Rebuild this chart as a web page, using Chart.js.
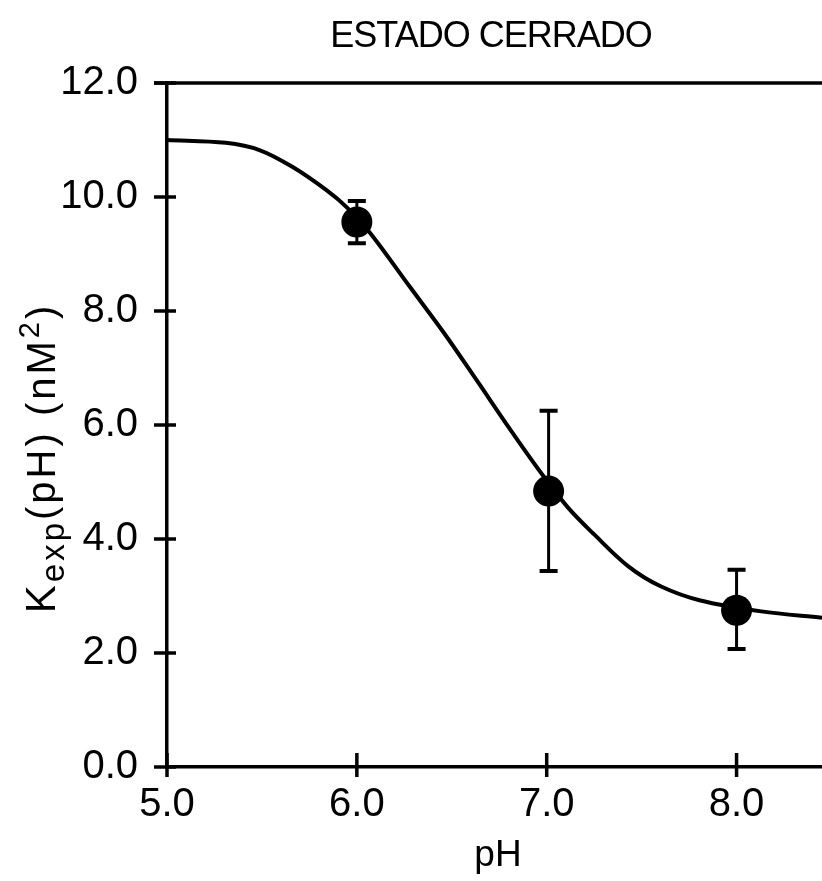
<!DOCTYPE html>
<html>
<head>
<meta charset="utf-8">
<script src="https://cdn.jsdelivr.net/npm/chart.js@4.4.1/dist/chart.umd.min.js"></script>
<style>
  html, body { margin: 0; padding: 0; background: #fff; }
  #wrap { width: 822px; height: 881px; }
</style>
</head>
<body>
<div id="wrap"><canvas id="myChart" width="822" height="881"></canvas></div>
<script>
// fitted curve
const curvePH = [5.0, 5.31, 5.49, 5.66, 5.84, 5.95, 6.07, 6.28, 6.46, 6.63, 6.81, 6.97, 7.11, 7.25, 7.43, 7.60, 7.81, 8.13, 8.45];
const curveK  = [11.0, 10.95, 10.82, 10.53, 10.12, 9.81, 9.37, 8.42, 7.61, 6.79, 5.91, 5.16, 4.56, 4.08, 3.52, 3.17, 2.92, 2.73, 2.62];

// measured points with error bars
const measPH  = [6.0, 7.01, 8.0];
const measK   = [9.56, 4.84, 2.75];
const errLow  = [9.19, 3.44, 2.07];
const errHigh = [9.93, 6.25, 3.46];

const xTicks = [5, 6, 7, 8];
const yTicks = [0, 2, 4, 6, 8, 10, 12];

const titleText = 'ESTADO CERRADO';
const xTitle = 'pH';

const FONT = '"Liberation Sans", Arial, sans-serif';
const ctx = document.getElementById('myChart').getContext('2d');

// error bars, cross ticks, frame top, titles
const decorations = {
    id: 'decorations',
    afterDatasetsDraw(chart) {
        const c = chart.ctx;
        const xs = chart.scales.x;
        const ys = chart.scales.y;
        const area = chart.chartArea;
        c.save();
        c.strokeStyle = '#000';
        c.fillStyle = '#000';
        c.lineCap = 'butt';

        // error bars
        measPH.forEach((ph, i) => {
            const px = xs.getPixelForValue(ph);
            const top = ys.getPixelForValue(errHigh[i]);
            const bot = ys.getPixelForValue(errLow[i]);
            c.lineWidth = 3;
            c.beginPath();
            c.moveTo(px, top);
            c.lineTo(px, bot);
            c.stroke();
            c.lineWidth = 4;
            c.beginPath();
            c.moveTo(px - 9, top);
            c.lineTo(px + 9, top);
            c.moveTo(px - 9, bot);
            c.lineTo(px + 9, bot);
            c.stroke();
        });

        // tick marks crossing the axes
        c.lineWidth = 3.5;
        yTicks.forEach(v => {
            const py = ys.getPixelForValue(v);
            c.beginPath();
            c.moveTo(area.left - 13, py);
            c.lineTo(area.left + 9, py);
            c.stroke();
        });
        xTicks.forEach(v => {
            const px = xs.getPixelForValue(v);
            c.beginPath();
            c.moveTo(px, area.bottom - 14);
            c.lineTo(px, area.bottom + 10);
            c.stroke();
        });

        // top frame line
        c.beginPath();
        c.moveTo(area.left - 13, area.top);
        c.lineTo(chart.width, area.top);
        c.stroke();

        // chart title
        c.textAlign = 'center';
        c.textBaseline = 'alphabetic';
        c.font = '36px ' + FONT;
        c.letterSpacing = '-1px';
        c.fillText(titleText, 491, 47);
        c.letterSpacing = '0px';

        // x title
        c.font = '37px ' + FONT;
        c.fillText(xTitle, 498, 866);

        // y title with subscript and superscript
        const parts = [
            { t: 'K', size: 42, shift: 0 },
            { t: 'exp', size: 33, shift: 9 },
            { t: '(pH) (nM', size: 40, shift: 0 },
            { t: '2', size: 29, shift: -16 },
            { t: ')', size: 40, shift: 0 }
        ];
        c.letterSpacing = '3px';
        let total = 0;
        parts.forEach(p => {
            c.font = p.size + 'px ' + FONT;
            p.w = c.measureText(p.t).width;
            total += p.w;
        });
        c.translate(55, 458);
        c.rotate(-Math.PI / 2);
        c.textAlign = 'left';
        let pos = -total / 2;
        parts.forEach(p => {
            c.font = p.size + 'px ' + FONT;
            c.fillText(p.t, pos, p.shift);
            pos += p.w;
        });
        c.restore();
    }
};

const myChart = new Chart(ctx, {
    type: 'line',
    data: {
        datasets: [
            {
                data: measPH.map((x, i) => ({ x: x, y: measK[i] })),
                showLine: false,
                pointRadius: 15.5,
                pointBackgroundColor: '#000',
                pointBorderColor: '#000',
                pointBorderWidth: 0,
                order: 0
            },
            {
                data: curvePH.map((x, i) => ({ x: x, y: curveK[i] })),
                borderColor: '#000',
                borderWidth: 4,
                pointRadius: 0,
                tension: 0.35,
                fill: false,
                order: 1
            }
        ]
    },
    options: {
        responsive: false,
        animation: false,
        clip: false,
        layout: {
            autoPadding: false,
            padding: { top: 83, left: 0, right: 0, bottom: 0 }
        },
        plugins: {
            legend: { display: false },
            title: { display: false },
            tooltip: { enabled: false }
        },
        scales: {
            x: {
                type: 'linear',
                min: 5,
                max: 8.45,
                grid: { display: false },
                border: { display: true, color: '#000', width: 3.5 },
                afterBuildTicks: scale => {
                    scale.ticks = xTicks.map(v => ({ value: v }));
                },
                afterFit: scale => {
                    scale.height = 114;
                    scale.paddingRight = 0;
                    scale.paddingLeft = 0;
                },
                ticks: {
                    color: '#000',
                    padding: 6,
                    maxRotation: 0,
                    font: { family: FONT, size: 40 },
                    callback: v => Number(v).toFixed(1)
                }
            },
            y: {
                type: 'linear',
                min: 0,
                max: 12,
                grid: { display: false },
                border: { display: true, color: '#000', width: 3.5 },
                afterBuildTicks: scale => {
                    scale.ticks = yTicks.map(v => ({ value: v }));
                },
                afterFit: scale => { scale.width = 167; },
                ticks: {
                    color: '#000',
                    padding: 21,
                    font: { family: FONT, size: 40 },
                    callback: v => Number(v).toFixed(1)
                }
            }
        }
    },
    plugins: [decorations]
});
</script>
</body>
</html>
